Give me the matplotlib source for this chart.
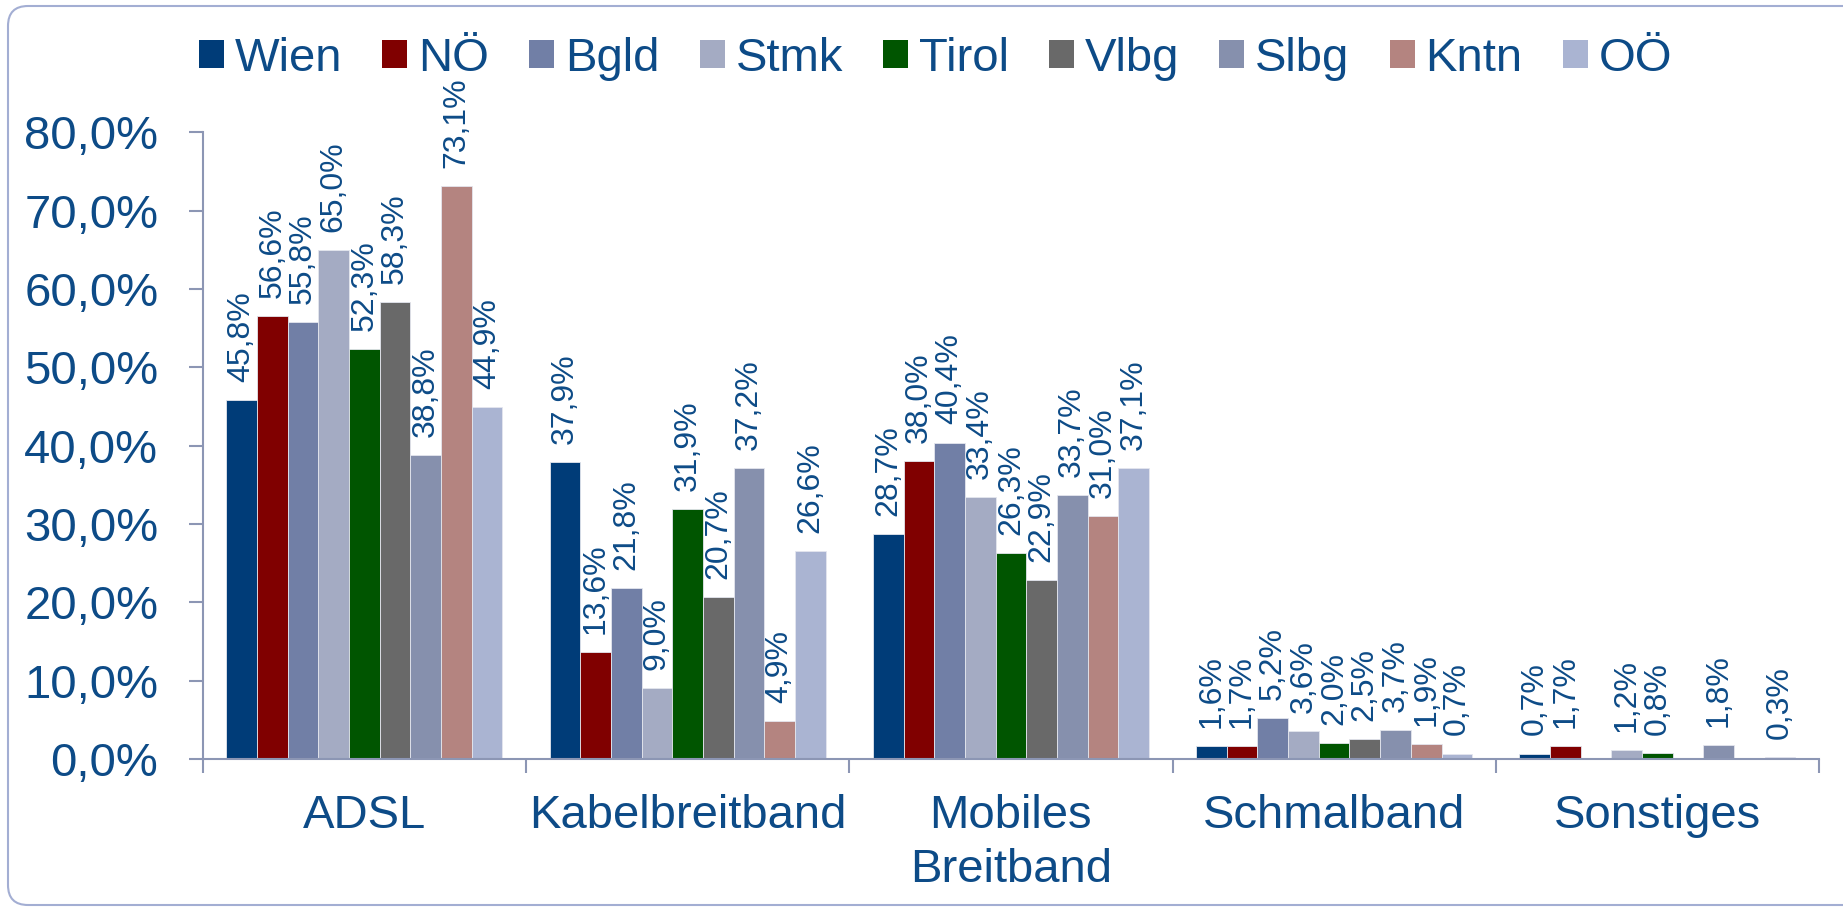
import numpy as np
import matplotlib
matplotlib.use('Agg')
import matplotlib.pyplot as plt
from matplotlib.patches import Patch, FancyBboxPatch
from matplotlib.ticker import FixedLocator, NullFormatter

plt.rcParams['font.family'] = ['Liberation Sans', 'DejaVu Sans']

# categories and series (values in percent)
categories = ['ADSL', 'Kabelbreitband', 'Mobiles\nBreitband', 'Schmalband', 'Sonstiges']
regions = ['Wien', 'NÖ', 'Bgld', 'Stmk', 'Tirol', 'Vlbg', 'Slbg', 'Kntn', 'OÖ']

wien = [45.8, 37.9, 28.7, 1.6, 0.7]
noe = [56.6, 13.6, 38.0, 1.7, 1.7]
bgld = [55.8, 21.8, 40.4, 5.2, np.nan]
stmk = [65.0, 9.0, 33.4, 3.6, 1.2]
tirol = [52.3, 31.9, 26.3, 2.0, 0.8]
vlbg = [58.3, 20.7, 22.9, 2.5, np.nan]
slbg = [38.8, 37.2, 33.7, 3.7, 1.8]
kntn = [73.1, 4.9, 31.0, 1.9, np.nan]
ooe = [44.9, 26.6, 37.1, 0.7, 0.3]
series = [wien, noe, bgld, stmk, tirol, vlbg, slbg, kntn, ooe]

yticks = [0, 10, 20, 30, 40, 50, 60, 70, 80]

colors = ['#003C78', '#800000', '#717FA6', '#A4ABC3', '#005500',
          '#696969', '#8690AD', '#B48480', '#AAB4D2']
txt = '#0D4B87'
axcol = '#8C96B4'


def pct(v):
    return ('%.1f' % v).replace('.', ',') + '%'


fig = plt.figure(figsize=(18.43, 9.08), dpi=100)
ax = fig.add_axes([0.110, 0.1641, 0.877, 0.6902])

w = 0.0949
centers = np.arange(len(categories)) + 0.5
for j, (name, vals, c) in enumerate(zip(regions, series, colors)):
    xs = centers + (j - 4) * w
    ax.bar(xs, vals, width=w, color=c, edgecolor='#E4E6EE', linewidth=0.6)
    for x, v in zip(xs, vals):
        if np.isnan(v):
            continue
        ax.annotate(pct(v), (x, v), xytext=(0, 13), textcoords='offset points',
                    rotation=90, ha='center', va='bottom', fontsize=23,
                    color=txt)

ax.set_xlim(0, len(categories))
ax.set_ylim(0, 80)
ax.set_yticks(yticks)
ax.set_yticklabels([pct(v) for v in yticks])

ax.xaxis.set_major_locator(FixedLocator(np.arange(len(categories) + 1)))
ax.xaxis.set_major_formatter(NullFormatter())
ax.xaxis.set_minor_locator(FixedLocator(centers))
ax.set_xticklabels(categories, minor=True)
for lab in ax.get_xticklabels(minor=True):
    lab.set_linespacing(1.3)
ax.tick_params(axis='x', which='major', length=10, width=1.5, color=axcol)
ax.tick_params(axis='x', which='minor', length=0, pad=25, labelsize=34,
               labelcolor=txt)
ax.tick_params(axis='y', length=10, width=1.5, color=axcol, pad=22,
               labelsize=34, labelcolor=txt)

for s in ['top', 'right']:
    ax.spines[s].set_visible(False)
for s in ['left', 'bottom']:
    ax.spines[s].set_color(axcol)
    ax.spines[s].set_linewidth(1.5)

handles = [Patch(facecolor=c, edgecolor='none') for c in colors]
fig.legend(handles, regions, loc='center', bbox_to_anchor=(0.5076, 0.935),
           ncol=9, frameon=False, fontsize=34, handlelength=0.53,
           handleheight=0.53, handletextpad=0.23, columnspacing=0.85,
           labelcolor=txt, borderpad=0.2)

# rounded frame around the chart (pixels)
frame = FancyBboxPatch((8, 3), 1880, 899, boxstyle='round,pad=0,rounding_size=20',
                       transform=None, facecolor='none', edgecolor='#A3AED3',
                       linewidth=1.5)
fig.patches.append(frame)

fig.savefig('out.png', dpi=100)
